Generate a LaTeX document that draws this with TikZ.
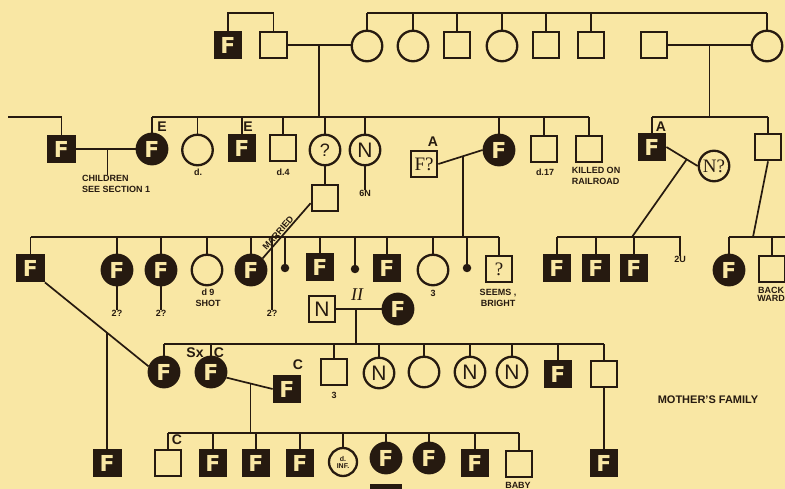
\documentclass[tikz,border=0pt]{standalone}
\usepackage{fontspec}
\setmainfont{Liberation Serif}
\setsansfont{Liberation Sans}
\newfontfamily\Ffont{DejaVu Sans}
\definecolor{bg}{RGB}{249,231,164}
\definecolor{ink}{RGB}{38,26,16}
\tikzset{
  shp/.style={draw=ink, line width=2.3pt, inner sep=0pt, fill=bg, text=ink},
  sq/.style={shp, rectangle, minimum size=26.5pt},
  ci/.style={shp, circle, minimum size=30.5pt},
  ffont/.style={font=\Ffont\bfseries\fontsize{22}{22}\selectfont},
  fsq/.style={sq, fill=ink, text=bg, ffont},
  fci/.style={ci, fill=ink, text=bg, ffont},
  nfont/.style={font=\sffamily\fontsize{21}{21}\selectfont},
  qfont/.style={font=\rmfamily\fontsize{19}{19}\selectfont},
  dotn/.style={circle, fill=ink, inner sep=0pt, minimum size=8.5pt},
  ln/.style={draw=ink, line width=1.7pt},
  lab/.style={font=\sffamily\bfseries\fontsize{9}{11}\selectfont, text=ink, inner sep=0pt, align=center},
  big/.style={font=\sffamily\bfseries\fontsize{14}{14}\selectfont, text=ink, inner sep=0pt},
}
\begin{document}
\begin{tikzpicture}[x=1pt,y=-1pt]
\clip (0,0) rectangle (785,489);
\fill[bg] (0,0) rectangle (785,489);
\coordinate (y0) at (0,13);
\coordinate (y1) at (0,117);
\coordinate (y2) at (0,237);
\coordinate (y3) at (0,344);
\coordinate (y4) at (0,433);

% ---------- Row 1
\node[fsq] (a1) at (228,45) {F};
\node[sq] (a2) at (273.5,45) {};
\node[ci] (b1) at (367,46) {};
\node[ci] (b2) at (413,46) {};
\node[sq] (b3) at (457,45) {};
\node[ci] (b4) at (502,46) {};
\node[sq] (b5) at (546,45) {};
\node[sq] (b6) at (591,45) {};
\node[sq] (b7) at (654,45) {};
\node[ci] (b8) at (767,46) {};
\draw[ln] (a1.north) -- (a1.north |- y0) -| (a2.north);
\draw[ln] (b1.north |- y0) -- (b8.north |- y0);
\foreach \n in {b1,b2,b3,b4,b5,b6,b8} \draw[ln] (\n.north) -- (\n.north |- y0);
\draw[ln] (a2.east) -- (b1.west |- a2.east) coordinate[pos=0.5] (m1);
\draw[ln] (m1) -- (m1 |- y1);
\draw[ln] (b7.east) -- (b8.west |- b7.east) coordinate[pos=0.5] (m3);
\draw[ln] (m3) -- (m3 |- y1);

% ---------- Row 2
\coordinate (lf) at (8,117);
\node[fsq] (c1) at (61.5,149) {F};
\draw[ln] (lf) -| (c1.north);
\node[fci] (c2) at (152,149) {F};
\node[big] at (162,127) {E};
\draw[ln] (c1.east) -- (c2.west) coordinate[pos=0.53] (m0);
\node[lab, anchor=north west, align=left] (t0) at (82,175) {CHILDREN\\SEE SECTION 1};
\draw[ln] (m0) -- (m0 |- t0.north);
\node[ci] (c3) at (197.5,150) {};
\node[lab] at (198,172) {d.};
\node[fsq] (c4) at (242,148) {F};
\node[big] at (248,127) {E};
\node[sq] (c5) at (283,148) {};
\node[lab] at (283,172) {d.4};
\node[ci, font=\sffamily\fontsize{18}{18}\selectfont] (c6) at (325,150) {?};
\node[ci, nfont] (c7) at (365,150) {N};
\node[lab] (t7) at (365,193) {6N};
\draw[ln] (c7.south) -- (t7.north);
\node[sq] (d1) at (325,198) {};
\draw[ln] (c6.south) -- (d1.north);
\node[sq, font=\rmfamily\fontsize{19}{19}\selectfont] (e1) at (424,164) {F?};
\node[big] at (433,142) {A};
\node[fci] (e2) at (499,150) {F};
\node[sq] (e3) at (544,149) {};
\node[lab] at (545,172) {d.17};
\node[sq] (e4) at (589,149) {};
\node[lab, align=left] at (596,175.5) {KILLED ON\\RAILROAD};
\draw[ln] (c2.north |- y1) -- (e4.north |- y1);
\foreach \n in {c2,c3,c4,c5,c6,c7,e2,e3,e4} \draw[ln] (\n.north) -- (\n.north |- y1);
\draw[ln] (e1.east) -- (e2.west) coordinate[pos=0.56] (m2);
\draw[ln] (m2) -- (m2 |- y2);

\node[fsq] (f1) at (652,147) {F};
\node[big] at (661,127) {A};
\node[ci, font=\rmfamily\fontsize{19}{19}\selectfont] (f2) at (714,166) {N?};
\node[sq] (f3) at (768,147) {};
\draw[ln] (f1.north |- y1) -- (f3.north |- y1);
\foreach \n in {f1,f3} \draw[ln] (\n.north) -- (\n.north |- y1);
\draw[ln] (f1.east) -- (f2.west) coordinate[pos=0.65] (m4);
\coordinate (k0) at (632,237);
\draw[ln] (m4) -- (k0);
\coordinate (l0) at (753,237);
\draw[ln] (f3.south) -- (l0);

% ---------- Row 3
\node[fsq] (g1) at (30.5,268) {F};
\node[fci] (g2) at (117,270) {F};
\node[lab] (tg2) at (117,313) {2?};
\draw[ln] (g2.south) -- (tg2.north);
\node[fci] (g3) at (161,270) {F};
\node[lab] (tg3) at (161,313) {2?};
\draw[ln] (g3.south) -- (tg3.north);
\node[ci] (g4) at (207,270) {};
\node[lab] at (208,298) {d 9\\SHOT};
\node[fci] (g5) at (251,270) {F};
\node[lab] (tg5) at (272,313) {2?};
\draw[ln] (tg5.north |- y2) -- (tg5.north);
\node[dotn] (g6) at (285,268) {};
\node[fsq] (g7) at (320,267) {F};
\node[dotn] (g8) at (355,269) {};
\node[fsq] (g9) at (387,268) {F};
\node[ci] (g10) at (433,270) {};
\node[lab] at (433,293) {3};
\node[dotn] (g11) at (467,268) {};
\node[sq, qfont] (g12) at (499,269) {?};
\node[lab] at (498,298) {SEEMS ,\\BRIGHT};
\draw[ln] (g1.north |- y2) -- (g12.north |- y2);
\foreach \n in {g1,g2,g3,g4,g5,g6,g7,g8,g9,g10,g11,g12} \draw[ln] (\n.north) -- (\n.north |- y2);
\draw[ln] (d1.200) -- node[lab, sloped, above=1pt, pos=0.6] {MARRIED} (g5.45);

\node[fsq] (k1) at (557,268) {F};
\node[fsq] (k2) at (596,268) {F};
\node[fsq] (k3) at (634,268) {F};
\node[lab] (k4) at (680,259) {2U};
\draw[ln] (k1.north |- y2) -- (k4.north |- y2) -- (k4.north);
\foreach \n in {k1,k2,k3} \draw[ln] (\n.north) -- (\n.north |- y2);
\node[fci] (l1) at (729,270) {F};
\node[sq] (l2) at (772,269) {};
\coordinate (redge) at (786,237);
\draw[ln] (l1.north |- y2) -- (redge);
\foreach \n in {l1,l2} \draw[ln] (\n.north) -- (\n.north |- y2);
\node[lab, font=\sffamily\bfseries\fontsize{9}{8}\selectfont] at (771,294) {BACK\\WARD};

% ---------- Row 4
\node[sq, nfont] (h1) at (322,309) {N};
\node[fci] (h2) at (398,309) {F};
\draw[ln] (h1.east) -- (h2.west) coordinate[pos=0.44] (m5);
\node[font=\rmfamily\itshape\fontsize{18}{18}\selectfont, text=ink, inner sep=0pt] at (357,295) {II};
\draw[ln] (m5) -- (m5 |- y3);
\node[fci] (i1) at (164,372) {F};
\node[fci] (i2) at (211,372) {F};
\node[big] at (195,353) {Sx};
\node[big] at (219,353) {C};
\node[fsq] (i3) at (287,389) {F};
\node[big] at (298,365) {C};
\draw[ln] (i2.-20) -- (i3.west) coordinate[pos=0.52] (m6);
\draw[ln] (m6) -- (m6 |- y4);
\draw[ln] (g1.south east) -- (i1.160) coordinate[pos=0.6] (m7);
\node[sq] (i4) at (334,372) {};
\node[lab] at (334,395) {3};
\node[ci, nfont] (i5) at (379,373) {N};
\node[ci] (i6) at (424,372) {};
\node[ci, nfont] (i7) at (470,372) {N};
\node[ci, nfont] (i8) at (512,372) {N};
\node[fsq] (i9) at (558,374) {F};
\node[sq] (i10) at (604,374) {};
\draw[ln] (i1.north |- y3) -- (i10.north |- y3);
\foreach \n in {i1,i2,i4,i5,i6,i7,i8,i9,i10} \draw[ln] (\n.north) -- (\n.north |- y3);
\node[lab, font=\sffamily\bfseries\fontsize{11}{11}\selectfont] at (708,400) {MOTHER'S FAMILY};

% ---------- Row 5
\node[fsq] (j1) at (107.1,463) {F};
\draw[ln] (m7) -- (m7 |- j1.north);
\node[sq] (j2) at (168,463) {};
\node[big] at (177,440) {C};
\node[fsq] (j3) at (213,463) {F};
\node[fsq] (j4) at (256,463) {F};
\node[fsq] (j5) at (300,463) {F};
\node[ci, minimum size=28pt, font=\sffamily\bfseries\fontsize{7}{7}\selectfont, align=center] (j6) at (343,462) {d.\\INF.};
\node[fci] (j7) at (386,458) {F};
\node[fci] (j8) at (429,458) {F};
\node[fsq] (j9) at (475,463) {F};
\node[sq] (j10) at (519,464) {};
\node[lab] at (518,485) {BABY};
\draw[ln] (j2.north |- y4) -- (j10.north |- y4);
\foreach \n in {j2,j3,j4,j5,j6,j7,j8,j9,j10} \draw[ln] (\n.north) -- (\n.north |- y4);
\node[fsq] (j11) at (604,463) {F};
\draw[ln] (i10.south) -- (j11.north);
\fill[ink] (370,484) rectangle (402,495);
\end{tikzpicture}
\end{document}
